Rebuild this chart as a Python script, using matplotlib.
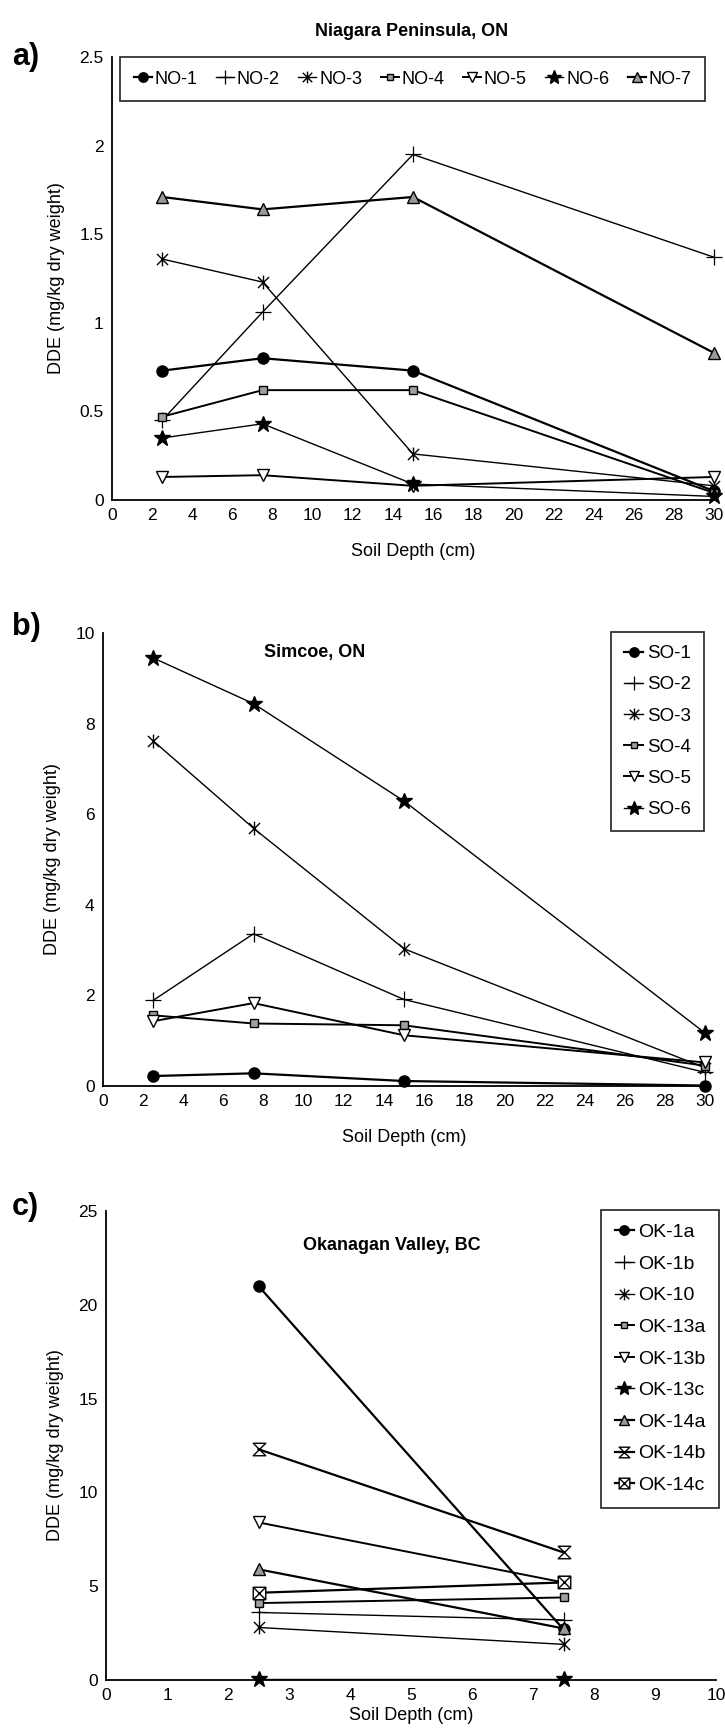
import matplotlib
matplotlib.use('Agg')
import matplotlib.pyplot as plt
from matplotlib.path import Path

plt.rcParams['font.family'] = ['Liberation Sans', 'DejaVu Sans']

# ---------------- data ----------------
depth_no = [2.5, 7.5, 15, 30]
labels_no = ['NO-1', 'NO-2', 'NO-3', 'NO-4', 'NO-5', 'NO-6', 'NO-7']
no_1 = [0.73, 0.80, 0.73, 0.05]
no_2 = [0.45, 1.06, 1.95, 1.37]
no_3 = [1.36, 1.23, 0.26, 0.08]
no_4 = [0.47, 0.62, 0.62, 0.04]
no_5 = [0.13, 0.14, 0.08, 0.13]
no_6 = [0.35, 0.43, 0.09, 0.02]
no_7 = [1.71, 1.64, 1.71, 0.83]

depth_so = [2.5, 7.5, 15, 30]
labels_so = ['SO-1', 'SO-2', 'SO-3', 'SO-4', 'SO-5', 'SO-6']
so_1 = [0.22, 0.28, 0.11, 0.01]
so_2 = [1.89, 3.36, 1.91, 0.30]
so_3 = [7.62, 5.69, 3.03, 0.40]
so_4 = [1.56, 1.38, 1.34, 0.45]
so_5 = [1.43, 1.83, 1.12, 0.52]
so_6 = [9.45, 8.44, 6.29, 1.17]

depth_ok = [2.5, 7.5]
labels_ok = ['OK-1a', 'OK-1b', 'OK-10', 'OK-13a', 'OK-13b', 'OK-13c',
             'OK-14a', 'OK-14b', 'OK-14c']
ok_1a = [21.0, 2.7]
ok_1b = [3.6, 3.2]
ok_10 = [2.8, 1.9]
ok_13a = [4.1, 4.4]
ok_13b = [8.4, 5.2]
ok_13c = [0.05, 0.05]
ok_14a = [5.9, 2.75]
ok_14b = [12.3, 6.8]
ok_14c = [4.65, 5.2]

yticks_a = [0, 0.5, 1, 1.5, 2, 2.5]
yticklabels_a = ['0', '0.5', '1', '1.5', '2', '2.5']
xticks_a = list(range(0, 31, 2))
yticks_b = [0, 2, 4, 6, 8, 10]
xticks_b = list(range(0, 31, 2))
yticks_c = [0, 5, 10, 15, 20, 25]
xticks_c = list(range(0, 11))

# ---------------- styles ----------------
hourglass = Path([(-1, 1), (1, 1), (-1, -1), (1, -1), (-1, 1)],
                 [Path.MOVETO, Path.LINETO, Path.LINETO, Path.LINETO, Path.CLOSEPOLY])
boxx = Path([(-1, -1), (1, -1), (1, 1), (-1, 1), (-1, -1),
             (-1, -1), (1, 1), (-1, 1), (1, -1)],
            [Path.MOVETO, Path.LINETO, Path.LINETO, Path.LINETO, Path.CLOSEPOLY,
             Path.MOVETO, Path.LINETO, Path.MOVETO, Path.LINETO])
xstar = Path([(0, -1), (0, 1), (-0.8, -0.8), (0.8, 0.8), (-0.8, 0.8), (0.8, -0.8)],
             [Path.MOVETO, Path.LINETO, Path.MOVETO, Path.LINETO, Path.MOVETO, Path.LINETO])

styles = [
    dict(marker='o', ms=8, mfc='black', mec='black', lw=1.6),
    dict(marker='+', ms=12, mfc='black', mec='black', mew=0.9, lw=1.0),
    dict(marker=xstar, ms=10, mfc='none', mec='black', mew=1.0, lw=1.0),
    dict(marker='s', ms=5.5, mfc='#a0a0a0', mec='black', mew=1.0, lw=1.4),
    dict(marker='v', ms=9, mfc='white', mec='black', mew=1.0, lw=1.4),
    dict(marker='*', ms=12, mfc='black', mec='black', lw=1.0),
    dict(marker='^', ms=9, mfc='#9a9a9a', mec='black', mew=1.0, lw=1.6),
    dict(marker=hourglass, ms=9, mfc='white', mec='black', mew=1.0, lw=1.6),
    dict(marker=boxx, ms=9, mfc='white', mec='black', mew=1.0, lw=1.6),
]

W, H = 725, 1729
fig = plt.figure(figsize=(W / 100, H / 100), dpi=100)


def rect(l, r, t, b):
    return [l / W, 1 - b / H, (r - l) / W, (b - t) / H]


def fx(x):
    return x / W


def fy(y):
    return 1 - y / H


def style_axes(ax, xlim, ylim, xticks, yticks, yticklabels=None, xlabelpad=14):
    ax.set_xlim(*xlim)
    ax.set_ylim(*ylim)
    ax.set_xticks(xticks)
    ax.set_yticks(yticks)
    if yticklabels is not None:
        ax.set_yticklabels(yticklabels)
    for s in ['top', 'right']:
        ax.spines[s].set_visible(False)
    for s in ['left', 'bottom']:
        ax.spines[s].set_linewidth(1.3)
        ax.spines[s].set_color('black')
    ax.tick_params(axis='both', length=0, labelsize=12.5, pad=6)
    ax.set_xlabel('Soil Depth (cm)', fontsize=13, labelpad=xlabelpad)
    ax.set_ylabel('DDE (mg/kg dry weight)', fontsize=13, labelpad=10)
    for sp in ax.spines.values():
        sp.set_zorder(1)


def draw(ax, x, series, labels):
    for i, (ys, lab) in enumerate(zip(series, labels)):
        st = dict(styles[i])
        lw = st.pop('lw')
        ax.plot(x, ys, color='black', linewidth=lw, label=lab, clip_on=False,
                zorder=3, **st)


def finish_legend(leg):
    leg.get_frame().set_linewidth(1.3)
    for h in leg.legend_handles:
        h.set_markersize(h.get_markersize() * 0.85)


# ---- panel a ----
ax_a = fig.add_axes(rect(112, 714, 57, 500))
draw(ax_a, depth_no, [no_1, no_2, no_3, no_4, no_5, no_6, no_7], labels_no)
style_axes(ax_a, (0, 30), (0, 2.5), xticks_a, yticks_a, yticklabels_a)
leg = ax_a.legend(loc='center', bbox_to_anchor=(fx(120), fy(103), fx(705) - fx(120), fy(55) - fy(103)),
                  bbox_transform=fig.transFigure, mode='expand', ncol=7, fontsize=13,
                  handlelength=1.0, handletextpad=0.15, columnspacing=0.5,
                  borderpad=0.75, borderaxespad=0, frameon=True, fancybox=False,
                  edgecolor='black')
finish_legend(leg)

# ---- panel b ----
ax_b = fig.add_axes(rect(103, 705, 633, 1086))
draw(ax_b, depth_so, [so_1, so_2, so_3, so_4, so_5, so_6], labels_so)
style_axes(ax_b, (0, 30), (0, 10), xticks_b, yticks_b)
leg = ax_b.legend(loc='upper right', bbox_to_anchor=(fx(704), fy(632)),
                  bbox_transform=fig.transFigure, ncol=1, fontsize=13.5,
                  handlelength=1.0, handletextpad=0.2, labelspacing=0.75,
                  borderpad=0.7, borderaxespad=0, frameon=True, fancybox=False,
                  edgecolor='black')
finish_legend(leg)

# ---- panel c ----
ax_c = fig.add_axes(rect(106, 716, 1211, 1680))
draw(ax_c, depth_ok, [ok_1a, ok_1b, ok_10, ok_13a, ok_13b, ok_13c, ok_14a, ok_14b, ok_14c], labels_ok)
style_axes(ax_c, (0, 10), (0, 25), xticks_c, yticks_c, xlabelpad=3)
leg = ax_c.legend(loc='upper right', bbox_to_anchor=(fx(719), fy(1210)),
                  bbox_transform=fig.transFigure, ncol=1, fontsize=14,
                  handlelength=1.0, handletextpad=0.2, labelspacing=0.72,
                  borderpad=0.7, borderaxespad=0, frameon=True, fancybox=False,
                  edgecolor='black')
finish_legend(leg)

# ---- titles & panel letters ----
fig.text(fx(412), fy(32), 'Niagara Peninsula, ON', ha='center', va='center',
         fontsize=13, fontweight='bold')
fig.text(fx(315), fy(652), 'Simcoe, ON', ha='center', va='center',
         fontsize=13, fontweight='bold')
fig.text(fx(392), fy(1245), 'Okanagan Valley, BC', ha='center', va='center',
         fontsize=13, fontweight='bold')
fig.text(fx(12), fy(57), 'a)', ha='left', va='center', fontsize=22, fontweight='bold')
fig.text(fx(12), fy(627), 'b)', ha='left', va='center', fontsize=22, fontweight='bold')
fig.text(fx(12), fy(1207), 'c)', ha='left', va='center', fontsize=22, fontweight='bold')

fig.savefig('out.png', dpi=100)
